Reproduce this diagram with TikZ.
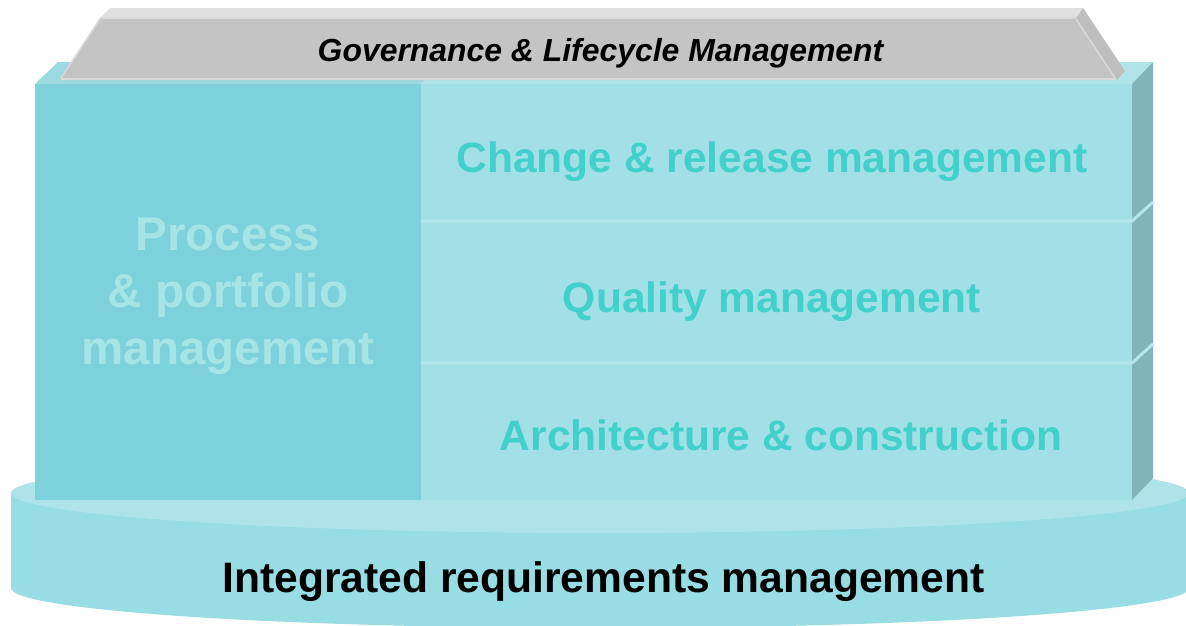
\documentclass[tikz,border=0pt]{standalone}
\usepackage{fontspec}
\setmainfont{Liberation Sans}
\definecolor{diskside}{HTML}{98DCE4}
\definecolor{disktop}{HTML}{ADE3E9}
\definecolor{leftblock}{HTML}{7DD1DB}
\definecolor{panel}{HTML}{A2DFE6}
\definecolor{lefttop}{HTML}{9CD9E1}
\definecolor{paneltop}{HTML}{B0E4E9}
\definecolor{sideface}{HTML}{80B4B8}
\definecolor{sepline}{HTML}{B2E6EB}
\definecolor{rooffront}{HTML}{C4C4C4}
\definecolor{rooftop}{HTML}{E0E0E0}
\definecolor{roofside}{HTML}{BEBEBE}
\definecolor{roofbevel}{HTML}{DADADA}
\definecolor{tealtext}{HTML}{41D1CA}
\definecolor{proctext}{HTML}{A6E5E6}
\begin{document}
\begin{tikzpicture}[x=1pt,y=-1pt,
  txt/.style={inner sep=0pt, anchor=base},
  paneltxt/.style={txt, text=tealtext, font=\fontsize{42.5}{51}\selectfont\bfseries},
  proctxt/.style={txt, text=proctext, font=\fontsize{47.5}{57}\selectfont\bfseries},
  bevel/.style={draw=roofbevel, line width=2pt},
  sep/.style={draw=sepline, line width=3pt},
]
\useasboundingbox (0,0) rectangle (1186,625);
\clip (0,0) rectangle (1186,625);
% disk
\fill[diskside] (600,588) ellipse [x radius=589, y radius=40];
\fill[diskside] (11,493) rectangle (1189,588);
\fill[disktop] (600,493) ellipse [x radius=589, y radius=40];
% box
\fill[leftblock] (35,84) rectangle (421,500);
\fill[panel] (421,84) rectangle (1132,500);
\fill[lefttop] (35,84) -- (58,62) -- (444,62) -- (421,84) -- cycle;
\fill[paneltop] (421,84) -- (444,62) -- (1153,62) -- (1132,84) -- cycle;
\fill[sideface] (1132,84) -- (1153,62) -- (1153,478) -- (1132,500) -- cycle;
\draw[sep] (421,221) -- (1132,221) -- (1153,202);
\draw[sep] (421,363) -- (1132,363) -- (1153,344);
% roof
\fill[rooffront] (100,18) -- (1076,18) -- (1117,80) -- (60,80) -- cycle;
\fill[rooftop] (110,8) -- (1083,8) -- (1076,18) -- (100,18) -- cycle;
\fill[roofside] (1083,8) -- (1125,71) -- (1117,80) -- (1076,18) -- cycle;
\draw[bevel] (101,18) -- (1075,18);
\draw[bevel] (61,79) -- (1116,79);
\draw[bevel, line width=1.5pt] (100,19) -- (61,78);
\draw[bevel, line width=1.5pt] (1076,19) -- (1115,78);
% texts
\node[txt, font=\fontsize{31.9}{38}\selectfont\bfseries\itshape] (gov) at (600.5,61) {Governance \& Lifecycle Management};
\node[proctxt] (proc1) at (228,250) {Process};
\node[proctxt] (proc2) at (228,307) {\& portfolio};
\node[proctxt] (proc3) at (228,364) {management};
\node[paneltxt] (change) at (772,172) {Change \& release management};
\node[paneltxt] (quality) at (772,312) {Quality management};
\node[paneltxt] (arch) at (781,450) {Architecture \& construction};
\node[txt, font=\fontsize{42.6}{51}\selectfont\bfseries] (irm) at (603.5,592) {Integrated requirements management};
\end{tikzpicture}
\end{document}
